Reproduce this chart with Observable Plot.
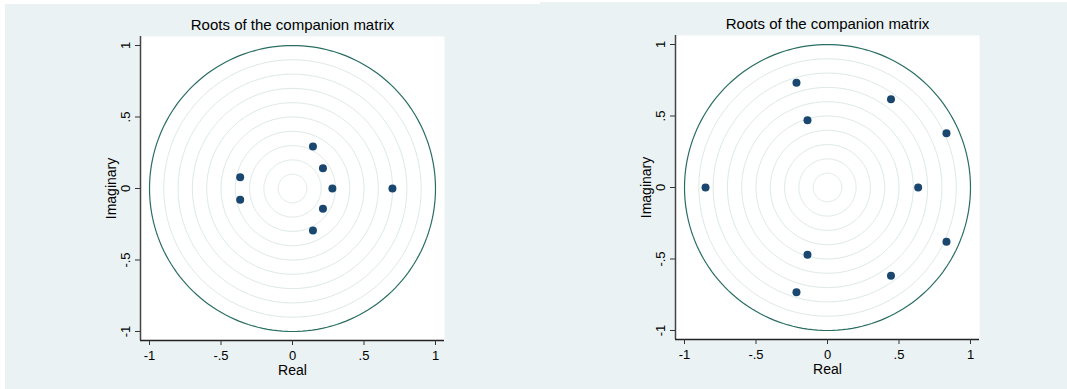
<!DOCTYPE html>
<html>
<head>
<meta charset="utf-8">
<script src="https://cdn.jsdelivr.net/npm/d3@7"></script>
<script src="https://cdn.jsdelivr.net/npm/@observablehq/plot@0.6"></script>
<style>
  html, body { margin: 0; padding: 0; background: #ffffff; width: 1067px; height: 389px; overflow: hidden; }
  .panel { position: absolute; background: #EAF2F3; }
  .panel svg { display: block; }
</style>
</head>
<body>
<div id="p1" class="panel" style="left:5px; top:4px; width:535px; height:385px;"></div>
<div id="p2" class="panel" style="left:540px; top:2px; width:527px; height:387px;"></div>
<script>
// ---- data ----
const titleText = "Roots of the companion matrix";
const xLabel = "Real";
const yLabel = "Imaginary";
const tickValues = [-1, -0.5, 0, 0.5, 1];
const tickLabels = ["-1", "-.5", "0", ".5", "1"];
const gridRadii = [0.1, 0.2, 0.3, 0.4, 0.5, 0.6, 0.7, 0.8, 0.9];
const unitRadius = [1];
const axisDomain = [-1.063, 1.063];

// left panel eigenvalues
const leftReal = [0.699, 0.279, 0.213, 0.213, 0.143, 0.143, -0.366, -0.366];
const leftImag = [0, 0, 0.142, -0.142, 0.294, -0.294, 0.079, -0.079];
// right panel eigenvalues
const rightReal = [-0.853, 0.634, -0.217, -0.217, -0.140, -0.140, 0.444, 0.444, 0.832, 0.832];
const rightImag = [0, 0, 0.733, -0.733, 0.471, -0.471, 0.617, -0.617, 0.380, -0.380];

const FONT = '"Liberation Sans", Arial, Helvetica, sans-serif';

function circlePoints(radii) {
  const angles = d3.range(0, 360, 2);
  return radii.flatMap(r => angles.map(a => ({
    r, x: r * Math.cos(a * Math.PI / 180), y: r * Math.sin(a * Math.PI / 180)
  })));
}

function panel(real, imag, m, width, height) {
  const pts = real.map((re, i) => ({re, im: imag[i]}));
  return Plot.plot({
    width, height,
    marginLeft: m.l, marginRight: m.r, marginTop: m.t, marginBottom: m.b,
    style: {background: "transparent", fontFamily: FONT, fontSize: "13px", color: "#000"},
    x: {domain: axisDomain},
    y: {domain: axisDomain},
    marks: [
      Plot.frame({fill: "white", stroke: "none"}),
      Plot.line(circlePoints(gridRadii), {x: "x", y: "y", z: "r", curve: "linear-closed", stroke: "#DDE9E8", strokeWidth: 1}),
      Plot.line(circlePoints(unitRadius), {x: "x", y: "y", z: "r", curve: "linear-closed", stroke: "#2A6E63", strokeWidth: 1.2}),
      Plot.dot(pts, {x: "re", y: "im", r: 4, fill: "#1A476F", stroke: "none"}),
      Plot.ruleX([axisDomain[0]], {stroke: "#444", strokeWidth: 1.5}),
      Plot.ruleY([axisDomain[0]], {stroke: "#222", strokeWidth: 1.5}),
      Plot.axisX({ticks: tickValues, tickSize: 5, tickFormat: () => "", label: null, stroke: "#333"}),
      Plot.axisY({ticks: tickValues, tickSize: 5, tickFormat: () => "", label: null, stroke: "#333"}),
      Plot.text(tickValues, {x: d => d, text: (d, i) => tickLabels[i], frameAnchor: "bottom", dy: 15.5, lineAnchor: "middle", fontSize: 13, fill: "#000"}),
      Plot.text(tickValues, {y: d => d, text: (d, i) => tickLabels[i], frameAnchor: "left", dx: -14.5, rotate: -90, lineAnchor: "middle", textAnchor: "middle", fontSize: 13, fill: "#000"}),
      Plot.text([xLabel], {text: d => d, frameAnchor: "bottom", dy: 30, lineAnchor: "middle", fontSize: 14, fill: "#000"}),
      Plot.text([yLabel], {text: d => d, frameAnchor: "left", dx: -29, rotate: -90, lineAnchor: "middle", textAnchor: "middle", fontSize: 14, fill: "#000"}),
      Plot.text([titleText], {text: d => d, frameAnchor: "top", dy: -6.5, lineAnchor: "bottom", fontSize: 15, fill: "#000"})
    ]
  });
}

document.getElementById("p1").appendChild(
  panel(leftReal, leftImag, {l: 135, r: 96, t: 32, b: 49}, 535, 385)
);
document.getElementById("p2").appendChild(
  panel(rightReal, rightImag, {l: 135, r: 88, t: 33, b: 50}, 527, 387)
);
</script>
</body>
</html>
